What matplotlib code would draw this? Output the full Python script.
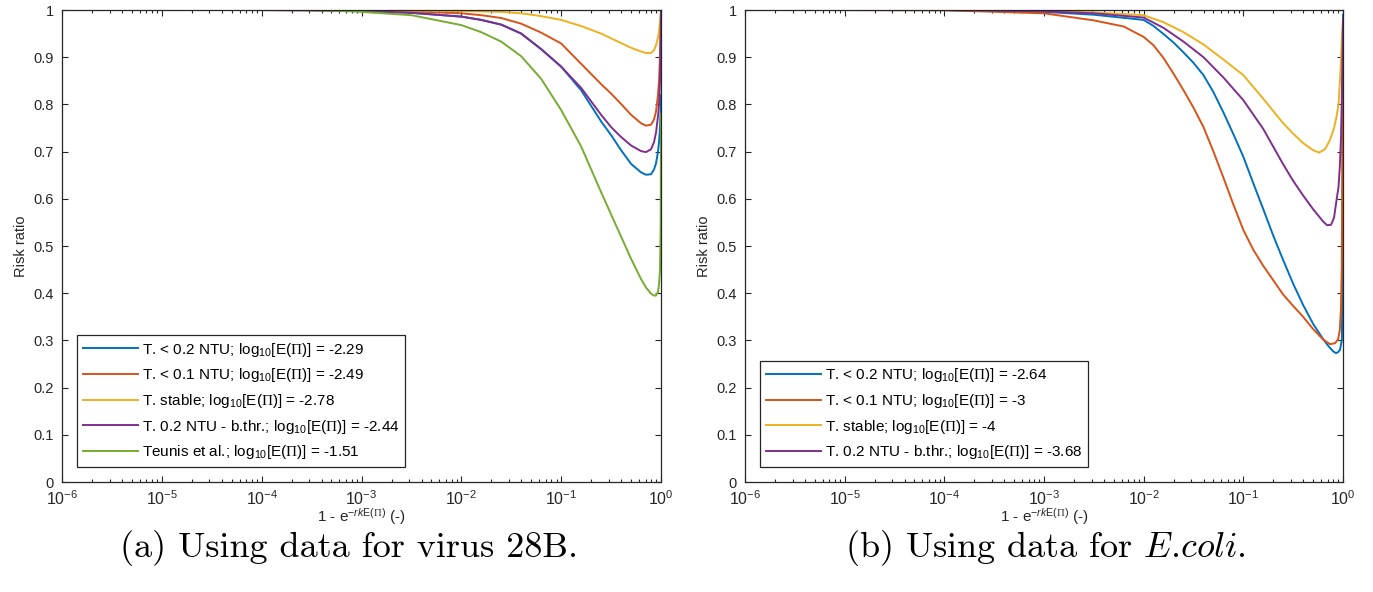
import matplotlib
matplotlib.use('Agg')
from matplotlib import pyplot as plt
from matplotlib.ticker import LogLocator, NullFormatter, FixedLocator, FixedFormatter
import numpy as np

plt.rcParams['font.family'] = ['Liberation Sans', 'DejaVu Sans']
plt.rcParams['mathtext.fontset'] = 'custom'
plt.rcParams['mathtext.rm'] = 'Liberation Sans'
plt.rcParams['mathtext.sf'] = 'Liberation Sans'
plt.rcParams['mathtext.it'] = 'Liberation Sans:italic'
plt.rcParams['mathtext.bf'] = 'Liberation Sans:bold'
plt.rcParams['mathtext.cal'] = 'Liberation Serif'

# MATLAB default colour order
blue, red, yellow, purple, green = '#0072BD', '#D95319', '#EDB120', '#7E2F8E', '#77AC30'

# x values are given as log10 of 1 - exp(-r k E(Pi))

# ---- (a) virus 28B ----
a_blue_lx = [-4.44, -4, -3.5, -3, -2.5, -2, -1.8, -1.6, -1.4, -1.2, -1.0, -0.8, -0.6, -0.5, -0.4, -0.3,
             -0.2, -0.15, -0.1, -0.07, -0.05, -0.03, -0.02, -0.01, -0.003, 0]
a_blue_y = [1.0, 0.9999, 0.9995, 0.998, 0.994, 0.986, 0.979, 0.969, 0.950, 0.917, 0.880, 0.830, 0.764, 0.735,
            0.703, 0.674, 0.656, 0.651, 0.652, 0.662, 0.675, 0.700, 0.720, 0.750, 0.790, 0.820]

a_red_lx = [-4.44, -4, -3, -2.5, -2, -1.8, -1.6, -1.4, -1.2, -1.0, -0.8, -0.6, -0.5, -0.4, -0.3, -0.2,
            -0.15, -0.1, -0.07, -0.05, -0.03, -0.02, -0.01, 0]
a_red_y = [1.0, 0.9999, 0.999, 0.997, 0.993, 0.989, 0.983, 0.971, 0.952, 0.929, 0.886, 0.843, 0.823, 0.801,
           0.778, 0.760, 0.755, 0.757, 0.768, 0.785, 0.820, 0.850, 0.900, 1.0]

a_yel_lx = [-4.78, -4, -3, -2, -1.6, -1.4, -1.2, -1.0, -0.8, -0.6, -0.4, -0.3, -0.2, -0.15, -0.1, -0.07,
            -0.05, -0.03, -0.02, -0.01, 0]
a_yel_y = [1.0, 0.9999, 0.9995, 0.998, 0.996, 0.993, 0.987, 0.979, 0.966, 0.950, 0.930, 0.920, 0.912, 0.909,
           0.909, 0.915, 0.925, 0.942, 0.955, 0.975, 1.0]

a_pur_lx = [-4.44, -4, -3.5, -3, -2.5, -2, -1.8, -1.6, -1.4, -1.2, -1.0, -0.8, -0.6, -0.5, -0.4, -0.3,
            -0.2, -0.15, -0.1, -0.07, -0.05, -0.03, -0.02, -0.01, 0]
a_pur_y = [1.0, 0.9999, 0.9995, 0.998, 0.994, 0.986, 0.979, 0.969, 0.950, 0.917, 0.880, 0.835, 0.778, 0.752,
           0.731, 0.713, 0.701, 0.699, 0.705, 0.720, 0.740, 0.775, 0.800, 0.850, 1.0]

a_grn_lx = [-3.52, -3.2, -3, -2.5, -2, -1.8, -1.6, -1.4, -1.2, -1.0, -0.8, -0.6, -0.5, -0.4, -0.3, -0.2,
            -0.15, -0.1, -0.07, -0.05, -0.03, -0.02, -0.01, -0.003, 0]
a_grn_y = [1.0, 0.998, 0.996, 0.989, 0.968, 0.953, 0.933, 0.902, 0.854, 0.788, 0.711, 0.614, 0.567, 0.520,
           0.473, 0.430, 0.412, 0.399, 0.395, 0.395, 0.403, 0.418, 0.450, 0.550, 0.780]

a_labels = [
    r'T. < 0.2 NTU; log$_{10}$[E($\mathcal{\Pi}$)] = -2.29',
    r'T. < 0.1 NTU; log$_{10}$[E($\mathcal{\Pi}$)] = -2.49',
    r'T. stable; log$_{10}$[E($\mathcal{\Pi}$)] = -2.78',
    r'T. 0.2 NTU - b.thr.; log$_{10}$[E($\mathcal{\Pi}$)] = -2.44',
    r'Teunis et al.; log$_{10}$[E($\mathcal{\Pi}$)] = -1.51',
]

# ---- (b) E.coli ----
b_blue_lx = [-5.72, -4, -3, -2.5, -2, -1.9, -1.8, -1.7, -1.6, -1.5, -1.4, -1.3, -1.2, -1.1, -1.0, -0.9,
             -0.8, -0.7, -0.6, -0.5, -0.4, -0.3, -0.2, -0.15, -0.1, -0.07, -0.05, -0.03, -0.012, -0.005, 0]
b_blue_y = [1.0, 0.9998, 0.996, 0.990, 0.979, 0.966, 0.949, 0.931, 0.910, 0.888, 0.862, 0.826, 0.783, 0.737,
            0.689, 0.633, 0.578, 0.522, 0.470, 0.420, 0.375, 0.335, 0.303, 0.289, 0.277, 0.273, 0.275, 0.280,
            0.300, 0.400, 0.990]

b_red_lx = [-5.72, -4, -3, -2.5, -2.2, -2, -1.9, -1.8, -1.7, -1.6, -1.5, -1.4, -1.3, -1.2, -1.1, -1.0, -0.9,
            -0.8, -0.6, -0.5, -0.4, -0.3, -0.2, -0.13, -0.08, -0.05, -0.032, -0.02, -0.012, 0]
b_red_y = [1.0, 0.9995, 0.993, 0.978, 0.965, 0.943, 0.925, 0.898, 0.865, 0.830, 0.793, 0.752, 0.700, 0.645,
           0.588, 0.534, 0.492, 0.458, 0.397, 0.373, 0.350, 0.324, 0.302, 0.292, 0.294, 0.302, 0.322, 0.370,
           0.460, 0.980]

b_yel_lx = [-6, -4, -3, -2.5, -2, -1.8, -1.6, -1.4, -1.2, -1.0, -0.8, -0.6, -0.5, -0.4, -0.3, -0.24,
            -0.18, -0.13, -0.09, -0.065, -0.045, -0.032, -0.02, -0.012, 0]
b_yel_y = [1.0, 0.9999, 0.998, 0.995, 0.989, 0.974, 0.953, 0.927, 0.895, 0.862, 0.812, 0.760, 0.738, 0.718,
           0.703, 0.698, 0.705, 0.725, 0.750, 0.774, 0.800, 0.845, 0.895, 0.936, 0.980]

b_pur_lx = [-5.72, -4, -3, -2.5, -2, -1.8, -1.6, -1.4, -1.2, -1.0, -0.8, -0.6, -0.5, -0.4, -0.3, -0.2,
            -0.16, -0.12, -0.09, -0.065, -0.045, -0.032, -0.02, -0.012, 0]
b_pur_y = [1.0, 0.9998, 0.997, 0.993, 0.984, 0.962, 0.933, 0.900, 0.857, 0.809, 0.748, 0.673, 0.638, 0.607,
           0.578, 0.552, 0.544, 0.545, 0.560, 0.597, 0.625, 0.668, 0.730, 0.810, 0.980]

b_labels = [
    r'T. < 0.2 NTU; log$_{10}$[E($\mathcal{\Pi}$)] = -2.64',
    r'T. < 0.1 NTU; log$_{10}$[E($\mathcal{\Pi}$)] = -3',
    r'T. stable; log$_{10}$[E($\mathcal{\Pi}$)] = -4',
    r'T. 0.2 NTU - b.thr.; log$_{10}$[E($\mathcal{\Pi}$)] = -3.68',
]

xticks = [1e-6, 1e-5, 1e-4, 1e-3, 1e-2, 1e-1, 1e0]
xticklabels = [r'$10^{-6}$', r'$10^{-5}$', r'$10^{-4}$', r'$10^{-3}$', r'$10^{-2}$', r'$10^{-1}$', r'$10^{0}$']
yticks = [0, 0.1, 0.2, 0.3, 0.4, 0.5, 0.6, 0.7, 0.8, 0.9, 1]
yticklabels = ['0', '0.1', '0.2', '0.3', '0.4', '0.5', '0.6', '0.7', '0.8', '0.9', '1']

fig = plt.figure(figsize=(13.73, 5.92), dpi=100)
ax_a = fig.add_axes([62 / 1373, 110 / 592, 599 / 1373, 472 / 592])
ax_b = fig.add_axes([745 / 1373, 110 / 592, 598 / 1373, 472 / 592])


def style(ax):
    ax.set_xscale('log')
    ax.set_xlim(1e-6, 1)
    ax.set_ylim(0, 1)
    ax.xaxis.set_major_locator(FixedLocator(xticks))
    ax.xaxis.set_major_formatter(FixedFormatter(xticklabels))
    ax.xaxis.set_minor_locator(LogLocator(base=10, subs=np.arange(2, 10), numticks=20))
    ax.xaxis.set_minor_formatter(NullFormatter())
    ax.set_yticks(yticks)
    ax.set_yticklabels(yticklabels)
    ax.tick_params(which='both', direction='in', top=True, right=True,
                   colors='#262626', labelcolor='#262626', width=0.8)
    ax.tick_params(which='major', length=4.5, pad=6)
    ax.tick_params(which='minor', length=2.5)
    ax.tick_params(axis='y', labelsize=10.5)
    ax.tick_params(axis='x', labelsize=11.5, pad=5)
    for s in ax.spines.values():
        s.set_color('#262626')
        s.set_linewidth(0.9)
    ax.set_ylabel('Risk ratio', fontsize=10.5, color='#262626', labelpad=4)
    ax.set_xlabel(r'1 - e$^{-\mathit{rk}\mathrm{E(}\mathcal{\Pi}\mathrm{)}}$ (-)',
                  fontsize=11, color='#262626', labelpad=-1)


lw = 1.4
style(ax_a)
ax_a.plot(10 ** np.array(a_blue_lx), a_blue_y, color=blue, lw=lw, label=a_labels[0])
ax_a.plot(10 ** np.array(a_red_lx), a_red_y, color=red, lw=lw, label=a_labels[1])
ax_a.plot(10 ** np.array(a_yel_lx), a_yel_y, color=yellow, lw=lw, label=a_labels[2])
ax_a.plot(10 ** np.array(a_pur_lx), a_pur_y, color=purple, lw=lw, label=a_labels[3])
ax_a.plot(10 ** np.array(a_grn_lx), a_grn_y, color=green, lw=lw, label=a_labels[4])

style(ax_b)
ax_b.plot(10 ** np.array(b_blue_lx), b_blue_y, color=blue, lw=lw, label=b_labels[0])
ax_b.plot(10 ** np.array(b_red_lx), b_red_y, color=red, lw=lw, label=b_labels[1])
ax_b.plot(10 ** np.array(b_yel_lx), b_yel_y, color=yellow, lw=lw, label=b_labels[2])
ax_b.plot(10 ** np.array(b_pur_lx), b_pur_y, color=purple, lw=lw, label=b_labels[3])

for ax in (ax_a, ax_b):
    leg = ax.legend(loc='lower left', fontsize=11, fancybox=False, framealpha=1,
                    edgecolor='#262626', handlelength=3.6, handletextpad=0.3,
                    labelspacing=0.5, borderpad=0.35, borderaxespad=1.0)
    leg.get_frame().set_linewidth(0.9)

fig.text(349 / 1373, 1 - 548 / 592, '(a) Using data for virus 28B.', family='cmr10',
         fontsize=26, ha='center', va='center')
fig.text(1045 / 1373, 1 - 548 / 592, r'(b) Using data for $\mathit{E}$.$\mathit{coli}$.',
         family='cmr10', math_fontfamily='cm', fontsize=26, ha='center', va='center')

fig.savefig('out.png', dpi=100)
